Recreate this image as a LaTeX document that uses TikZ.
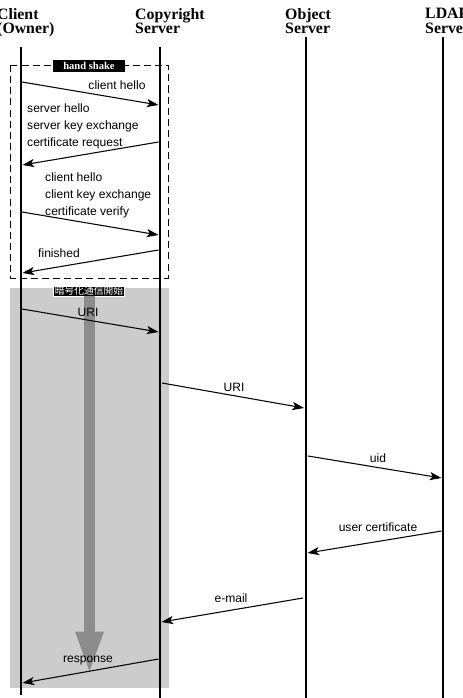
\documentclass[tikz,border=0pt]{standalone}
\usepackage{fontspec}
\setmainfont{Liberation Serif}
\setsansfont{Liberation Sans}
\newfontfamily\jpfont{Noto Sans CJK JP}
\usetikzlibrary{arrows.meta}

\begin{document}
\begin{tikzpicture}[x=0.03cm, y=-0.03cm,
    lifeline/.style={line width=2.5pt},
    msg/.style={line width=0.9pt, -{Stealth[length=10pt, width=7pt, inset=2.5pt]}},
    head/.style={font=\fontsize{13.5}{12.5}\selectfont\bfseries, align=left, anchor=north west, inner sep=0pt},
    lbl/.style={font=\sffamily\fontsize{10.3}{14.5}\selectfont, inner sep=0pt},
    tag/.style={fill=black, text=white, inner xsep=1.5pt, inner ysep=0.5pt}]
    \useasboundingbox (0,0) rectangle (462,698);

    % Encrypted part (gray) and handshake part (dashed)
    \fill[black!20] (10,288) rectangle (169,688);
    \draw[line width=0.8pt, dash pattern=on 6pt off 3.5pt] (10,65) rectangle (168,278);
    \node[tag, font=\fontsize{9}{9}\selectfont\bfseries, minimum width=2.15cm, minimum height=0.36cm] (handshake) at (89,66) {hand shake};
    \node[tag, draw=white, line width=0.6pt, font=\jpfont\fontsize{8.3}{8.3}\selectfont] (crypto) at (89,291) {暗号化通信開始};
    \coordinate (flowEnd) at (89.5,675);
    \draw[black!45, line width=9.4pt, -{Triangle[length=1.3cm, width=0.75cm]}] (crypto.south) ++(0.5,0) -- (flowEnd);

    % Headings
    \node[head] (client) at (-3,8) {Client\\(Owner)};
    \node[head] (copyright) at (135,8) {Copyright\\Server};
    \node[head] (object) at (285,8) {Object\\Server};
    \node[head] (ldap) at (425,8) {LDAP\\Server};

    % Lifelines
    \coordinate (clientTop) at (21,47);  \coordinate (clientBot) at (21,695);
    \coordinate (copyTop) at (160,47);   \coordinate (copyBot) at (160,698);
    \coordinate (objTop) at (306,37);    \coordinate (objBot) at (306,698);
    \coordinate (ldapTop) at (443,37);   \coordinate (ldapBot) at (443,698);
    \draw[lifeline] (clientTop) -- (clientBot);
    \draw[lifeline] (copyTop) -- (copyBot);
    \draw[lifeline] (objTop) -- (objBot);
    \draw[lifeline] (ldapTop) -- (ldapBot);

    % Message ends
    \coordinate (helloA) at (22,82);      \coordinate (helloB) at (158.5,105);
    \coordinate (serverA) at (158.5,142); \coordinate (serverB) at (22.5,165);
    \coordinate (verifyA) at (22,212);    \coordinate (verifyB) at (158.5,235);
    \coordinate (finA) at (158.5,250);    \coordinate (finB) at (22.5,273);
    \coordinate (uriA) at (22,309);       \coordinate (uriB) at (158.5,332);
    \coordinate (uriC) at (162,383);      \coordinate (uriD) at (304,408);
    \coordinate (uidA) at (308,456);      \coordinate (uidB) at (441.5,478);
    \coordinate (certA) at (441.5,531);   \coordinate (certB) at (307.5,553);
    \coordinate (mailA) at (303,598);     \coordinate (mailB) at (161.5,622);
    \coordinate (respA) at (158.5,659);   \coordinate (respB) at (22.5,683);

    % Messages
    \draw[msg] (helloA) -- (helloB);
    \draw[msg] (serverA) -- (serverB);
    \draw[msg] (verifyA) -- (verifyB);
    \draw[msg] (finA) -- (finB);
    \draw[msg] (uriA) -- (uriB);
    \draw[msg] (uriC) -- (uriD);
    \draw[msg] (uidA) -- (uidB);
    \draw[msg] (certA) -- (certB);
    \draw[msg] (mailA) -- (mailB);
    \draw[msg] (respA) -- (respB);

    % Message labels
    \node[lbl] (helloLbl) at (117,85) {client hello};
    \node[lbl, align=left, anchor=west] (serverLbl) at (27,126) {server hello\\server key exchange\\certificate request};
    \node[lbl, align=left, anchor=west] (verifyLbl) at (45,195) {client hello\\client key exchange\\certificate verify};
    \node[lbl, anchor=west] (finLbl) at (38,253) {finished};
    \node[lbl] (uriLbl) at (88,312) {URI};
    \node[lbl] (uriLbl2) at (234,387) {URI};
    \node[lbl] (uidLbl) at (378,458) {uid};
    \node[lbl] (certLbl) at (378,527) {user certificate};
    \node[lbl] (mailLbl) at (231,598) {e-mail};
    \node[lbl] (respLbl) at (88,660) {response};
\end{tikzpicture}
\end{document}
